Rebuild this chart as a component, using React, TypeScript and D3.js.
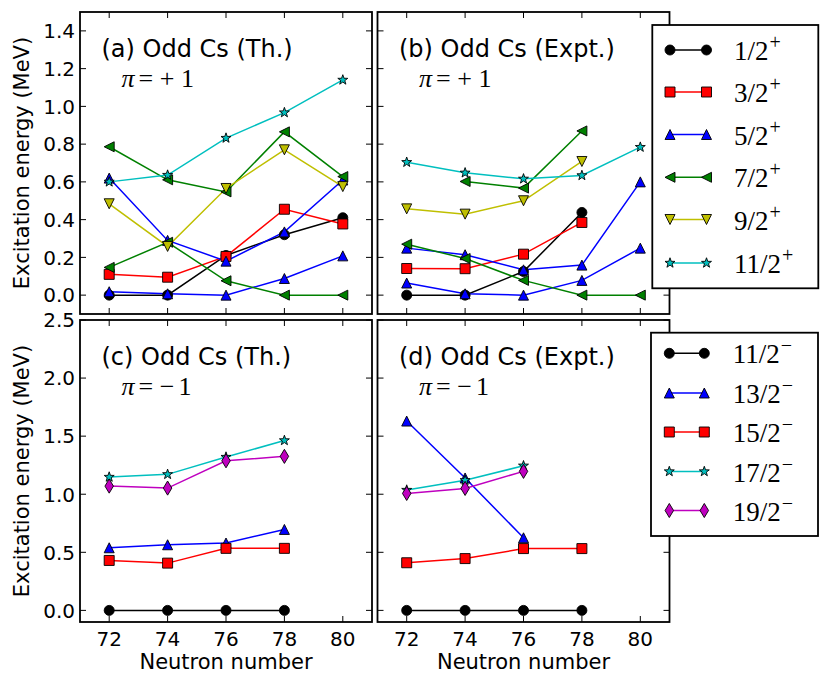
import React from 'react';
import * as d3 from 'd3';

// ---------- data ----------
const N5 = [72, 74, 76, 78, 80];
const N4 = [72, 74, 76, 78];
const N3 = [72, 74, 76];
const N3late = [74, 76, 78];
const xTicks = [72, 74, 76, 78, 80];
const yTicksPos = [0, 0.2, 0.4, 0.6, 0.8, 1.0, 1.2, 1.4];
const yTicksNeg = [0, 0.5, 1.0, 1.5, 2.0, 2.5];

// (a) theory, positive parity
const thP_1_2 = [0, 0, 0.21, 0.32, 0.41];
const thP_3_2 = [0.11, 0.095, 0.205, 0.455, 0.377];
const thP_5_2a = [0.62, 0.29, 0.18, 0.335, 0.61];
const thP_5_2b = [0.018, 0.007, 0, 0.088, 0.208];
const thP_7_2a = [0.786, 0.611, 0.547, 0.865, 0.628];
const thP_7_2b = [0.147, 0.28, 0.076, 0, 0];
const thP_9_2 = [0.484, 0.258, 0.565, 0.77, 0.575];
const thP_11_2 = [0.6, 0.636, 0.832, 0.967, 1.14];

// (b) experiment, positive parity
const exP_1_2 = [0, 0, 0.125, 0.438];
const exP_3_2 = [0.141, 0.14, 0.217, 0.385];
const exP_5_2a = [0.249, 0.214, 0.134, 0.159, 0.6];
const exP_5_2b = [0.064, 0.007, 0, 0.078, 0.249];
const exP_7_2a = [0.602, 0.567, 0.87];
const exP_7_2b = [0.27, 0.194, 0.078, 0, 0];
const exP_9_2 = [0.457, 0.429, 0.5, 0.708];
const exP_11_2 = [0.704, 0.648, 0.616, 0.634, 0.784];

// (c) theory, negative parity
const thN_11_2 = [0, 0, 0, 0];
const thN_13_2 = [0.539, 0.565, 0.58, 0.697];
const thN_15_2 = [0.43, 0.407, 0.534, 0.534];
const thN_17_2 = [1.148, 1.171, 1.32, 1.463];
const thN_19_2 = [1.07, 1.053, 1.288, 1.326];

// (d) experiment, negative parity
const exN_11_2 = [0, 0, 0, 0];
const exN_13_2 = [1.63, 1.14, 0.625];
const exN_15_2 = [0.41, 0.446, 0.532, 0.532];
const exN_17_2 = [1.036, 1.12, 1.245];
const exN_19_2 = [1.007, 1.05, 1.197];

const legendPos = ['1/2', '3/2', '5/2', '7/2', '9/2', '11/2'];
const legendNeg = ['11/2', '13/2', '15/2', '17/2', '19/2'];

// ---------- styles ----------
const C = {
  k: '#000000', r: '#ff0000', b: '#0000ff', g: '#008000',
  y: '#bfbf00', c: '#00bfbf', m: '#bf00bf',
};
const SANS = "'DejaVu Sans', sans-serif";
const SERIF = "'Liberation Serif', serif";

type Marker = 'o' | 's' | '^' | 'v' | '<' | '*' | 'd';
interface Series { x: number[]; y: number[]; color: string; marker: Marker; }

const posStyles: { color: string; marker: Marker }[] = [
  { color: C.k, marker: 'o' }, { color: C.r, marker: 's' }, { color: C.b, marker: '^' },
  { color: C.g, marker: '<' }, { color: C.y, marker: 'v' }, { color: C.c, marker: '*' },
];
const negStyles: { color: string; marker: Marker }[] = [
  { color: C.k, marker: 'o' }, { color: C.b, marker: '^' }, { color: C.r, marker: 's' },
  { color: C.c, marker: '*' }, { color: C.m, marker: 'd' },
];

const S = (x: number[], y: number[], st: { color: string; marker: Marker }): Series => ({ x, y, ...st });

const seriesA: Series[] = [
  S(N5, thP_1_2, posStyles[0]), S(N5, thP_3_2, posStyles[1]),
  S(N5, thP_5_2a, posStyles[2]), S(N5, thP_5_2b, posStyles[2]),
  S(N5, thP_7_2a, posStyles[3]), S(N5, thP_7_2b, posStyles[3]),
  S(N5, thP_9_2, posStyles[4]), S(N5, thP_11_2, posStyles[5]),
];
const seriesB: Series[] = [
  S(N4, exP_1_2, posStyles[0]), S(N4, exP_3_2, posStyles[1]),
  S(N5, exP_5_2a, posStyles[2]), S(N5, exP_5_2b, posStyles[2]),
  S(N3late, exP_7_2a, posStyles[3]), S(N5, exP_7_2b, posStyles[3]),
  S(N4, exP_9_2, posStyles[4]), S(N5, exP_11_2, posStyles[5]),
];
const seriesC: Series[] = [
  S(N4, thN_11_2, negStyles[0]), S(N4, thN_13_2, negStyles[1]), S(N4, thN_15_2, negStyles[2]),
  S(N4, thN_17_2, negStyles[3]), S(N4, thN_19_2, negStyles[4]),
];
const seriesD: Series[] = [
  S(N4, exN_11_2, negStyles[0]), S(N3, exN_13_2, negStyles[1]), S(N4, exN_15_2, negStyles[2]),
  S(N3, exN_17_2, negStyles[3]), S(N3, exN_19_2, negStyles[4]),
];

function markerPath(m: Marker, s: number): string {
  const h = s / 2;
  switch (m) {
    case 'o': return `M${h},0A${h},${h} 0 1,1 ${-h},0A${h},${h} 0 1,1 ${h},0Z`;
    case 's': return `M${-h},${-h}H${h}V${h}H${-h}Z`;
    case '^': return `M0,${-h}L${h},${h}L${-h},${h}Z`;
    case 'v': return `M0,${h}L${h},${-h}L${-h},${-h}Z`;
    case '<': return `M${-h},0L${h},${-h}L${h},${h}Z`;
    case 'd': return `M0,${-0.707 * s}L${0.425 * s},0L0,${0.707 * s}L${-0.425 * s},0Z`;
    case '*': {
      const pts: string[] = [];
      const R = h * 1.05, r = h * 0.42;
      for (let i = 0; i < 10; i++) {
        const a = -Math.PI / 2 + (i * Math.PI) / 5;
        const rad = i % 2 === 0 ? R : r;
        pts.push(`${(rad * Math.cos(a)).toFixed(2)},${(rad * Math.sin(a)).toFixed(2)}`);
      }
      return 'M' + pts.join('L') + 'Z';
    }
  }
  return '';
}

const MS = 10;

interface PanelProps {
  x0: number; x1: number; y0: number; y1: number;
  ydom: [number, number]; yTicks: number[];
  series: Series[]; title: string; parity: string;
  showYLabels: boolean; showXLabels: boolean;
}

const fmt = d3.format('.1f');

function Panel(p: PanelProps) {
  const xs = d3.scaleLinear().domain([71, 81]).range([p.x0, p.x1]);
  const ys = d3.scaleLinear().domain(p.ydom).range([p.y1, p.y0]);
  const line = d3.line<[number, number]>().x(d => xs(d[0])).y(d => ys(d[1]));
  const T = 6;
  const plus = p.parity === '+';
  return (
    <g>
      {p.series.map((s, i) => (
        <path key={'l' + i} d={line(s.x.map((x, j) => [x, s.y[j]] as [number, number])) || ''}
          fill="none" stroke={s.color} strokeWidth={1.5} />
      ))}
      {p.series.map((s, i) => (
        <g key={'m' + i}>
          {s.x.map((x, j) => (
            <path key={j} d={markerPath(s.marker, MS)} transform={`translate(${xs(x)},${ys(s.y[j])})`}
              fill={s.color} stroke="#000" strokeWidth={0.9} />
          ))}
        </g>
      ))}
      {xTicks.map(t => (
        <g key={'xt' + t} stroke="#000" strokeWidth={1}>
          <line x1={xs(t)} x2={xs(t)} y1={p.y1} y2={p.y1 - T} />
          <line x1={xs(t)} x2={xs(t)} y1={p.y0} y2={p.y0 + T} />
        </g>
      ))}
      {p.yTicks.map(t => (
        <g key={'yt' + t} stroke="#000" strokeWidth={1}>
          <line x1={p.x0} x2={p.x0 + T} y1={ys(t)} y2={ys(t)} />
          <line x1={p.x1} x2={p.x1 - T} y1={ys(t)} y2={ys(t)} />
        </g>
      ))}
      <rect x={p.x0} y={p.y0} width={p.x1 - p.x0} height={p.y1 - p.y0} fill="none" stroke="#000" strokeWidth={1.8} />
      {p.showYLabels && p.yTicks.map(t => (
        <text key={'yl' + t} x={p.x0 - 5} y={ys(t) + 7.3} textAnchor="end" fontFamily={SANS} fontSize={20}>{fmt(t)}</text>
      ))}
      {p.showXLabels && xTicks.map(t => (
        <text key={'xl' + t} x={xs(t)} y={p.y1 + 23.5} textAnchor="middle" fontFamily={SANS} fontSize={20}>{t}</text>
      ))}
      <text x={p.x0 + 21.5} y={p.y0 + 45.3} fontFamily={SANS} fontSize={24}>{p.title}</text>
      <text x={p.x0 + 41.5} y={p.y0 + 75.3} fontFamily={SERIF} fontSize={26}>
        <tspan fontStyle="italic">π</tspan>
        <tspan dx={4}>=</tspan>
        <tspan dx={6.5}>{plus ? '+' : '−'}</tspan>
        <tspan dx={plus ? 6.5 : 4}>1</tspan>
      </text>
    </g>
  );
}

function Legend(props: { x0: number; x1: number; y0: number; y1: number; rows: number[]; labels: string[]; styles: { color: string; marker: Marker }[]; sup: string; mx: [number, number]; tx: number }) {
  return (
    <g>
      <rect x={props.x0} y={props.y0} width={props.x1 - props.x0} height={props.y1 - props.y0} fill="#fff" stroke="#000" strokeWidth={1.8} />
      {props.labels.map((lab, i) => {
        const st = props.styles[i];
        const y = props.rows[i];
        return (
          <g key={lab + i}>
            <line x1={props.mx[0]} x2={props.mx[1]} y1={y} y2={y} stroke={st.color} strokeWidth={1.6} />
            {props.mx.map((mx, k) => (
              <path key={k} d={markerPath(st.marker, MS)} transform={`translate(${mx},${y})`} fill={st.color} stroke="#000" strokeWidth={0.9} />
            ))}
            <text x={props.tx} y={y + 10} fontFamily={SERIF} fontSize={27}>
              {lab}
              <tspan dy={-11} dx={1} fontSize={20}>{props.sup}</tspan>
            </text>
          </g>
        );
      })}
    </g>
  );
}

export default function App() {
  const top = { y0: 12, y1: 314 };
  const bot = { y0: 320, y1: 622 };
  const left = { x0: 80, x1: 372 };
  const right = { x0: 377.5, x1: 669.5 };
  return (
    <svg width={831} height={683} style={{ position: 'absolute', left: 0, top: 0, background: '#fff' }}>
      <rect x={0} y={0} width={831} height={683} fill="#fff" />
      <Panel {...left} {...top} ydom={[-0.1, 1.5]} yTicks={yTicksPos} series={seriesA}
        title="(a) Odd Cs (Th.)" parity="+" showYLabels={true} showXLabels={false} />
      <Panel {...right} {...top} ydom={[-0.1, 1.5]} yTicks={yTicksPos} series={seriesB}
        title="(b) Odd Cs (Expt.)" parity="+" showYLabels={false} showXLabels={false} />
      <Panel {...left} {...bot} ydom={[-0.1, 2.5]} yTicks={yTicksNeg} series={seriesC}
        title="(c) Odd Cs (Th.)" parity="-" showYLabels={true} showXLabels={true} />
      <Panel {...right} {...bot} ydom={[-0.1, 2.5]} yTicks={yTicksNeg} series={seriesD}
        title="(d) Odd Cs (Expt.)" parity="-" showYLabels={false} showXLabels={true} />
      <Legend x0={652.3} x1={818.3} y0={25} y1={288.3} rows={[50, 92, 134.5, 177.3, 219.5, 263]}
        labels={legendPos} styles={posStyles} sup="+" mx={[670, 706.5]} tx={734} />
      <Legend x0={651} x1={818} y0={332.7} y1={536} rows={[353.3, 393, 432, 471.5, 510.5]}
        labels={legendNeg} styles={negStyles} sup="−" mx={[669.3, 704.3]} tx={732.7} />
      <text transform={`translate(28.5,163) rotate(-90)`} textAnchor="middle" fontFamily={SANS} fontSize={21}>Excitation energy (MeV)</text>
      <text transform={`translate(28.5,471) rotate(-90)`} textAnchor="middle" fontFamily={SANS} fontSize={21}>Excitation energy (MeV)</text>
      <text x={226} y={668.5} textAnchor="middle" fontFamily={SANS} fontSize={21}>Neutron number</text>
      <text x={523.5} y={668.5} textAnchor="middle" fontFamily={SANS} fontSize={21}>Neutron number</text>
    </svg>
  );
}
